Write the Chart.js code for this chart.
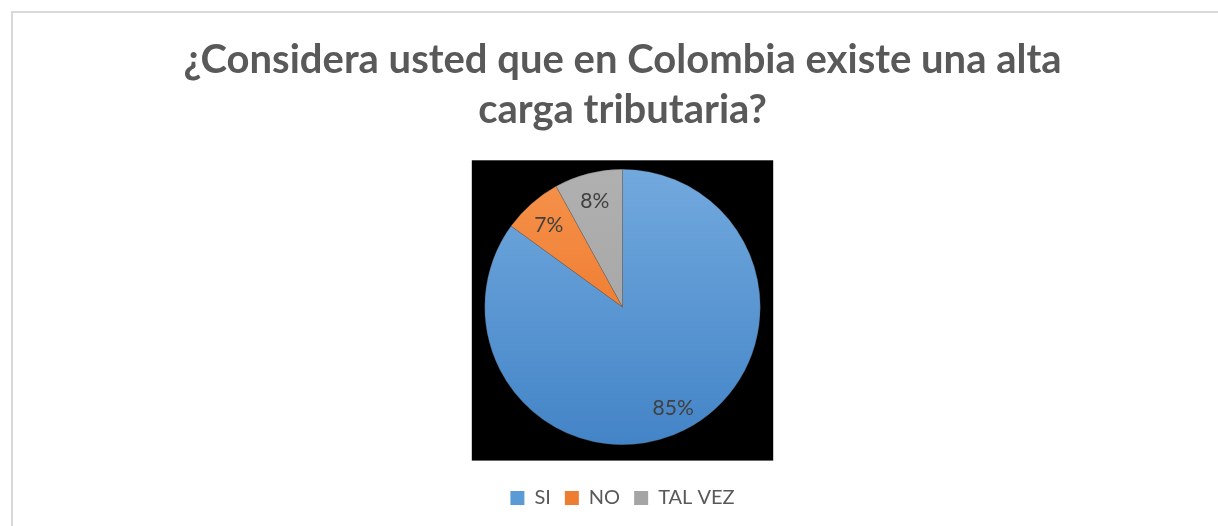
<!DOCTYPE html>
<html>
<head>
<meta charset="utf-8">
<script src="https://cdn.jsdelivr.net/npm/chart.js@4"></script>
<style>
  html, body { margin: 0; padding: 0; background: #ffffff; }
  #wrap { position: relative; width: 1218px; height: 526px; overflow: hidden; }
  #frame { position: absolute; left: 11px; top: 11px; width: 1300px; height: 600px;
           border-left: 2px solid #d9d9d9; border-top: 2px solid #d9d9d9; box-sizing: border-box; }
  canvas { position: absolute; left: 0; top: 0; }
</style>
</head>
<body>
<div id="wrap">
  <div id="frame"></div>
  <canvas id="c" width="1218" height="526"></canvas>
</div>
<script>
const titleLines = ["¿Considera usted que en Colombia existe una alta", "carga tributaria?"];
const categories = ["SI", "NO", "TAL VEZ"];
const values = [85, 7, 8];
const topColors = ["#72a9de", "#f6924c", "#b0b0b0"];
const bottomColors = ["#4384c7", "#e96d1c", "#a0a0a0"];
const legendColors = ["#5b9bd5", "#ed7d31", "#a5a5a5"];

function gradFill(ctx) {
  const chart = ctx.chart;
  const a = chart.chartArea;
  const i = ctx.dataIndex;
  if (!a || i === undefined) return legendColors[i] || "#999";
  const g = chart.ctx.createLinearGradient(0, a.top, 0, a.bottom);
  g.addColorStop(0, topColors[i]);
  g.addColorStop(1, bottomColors[i]);
  return g;
}

const blackBox = {
  id: 'blackBox',
  beforeDatasetsDraw(chart) {
    const arc = chart.getDatasetMeta(0).data[0];
    if (!arc) return;
    const p = arc.getProps(['x', 'y', 'outerRadius'], true);
    const r = p.outerRadius;
    const c = chart.ctx;
    c.save();
    c.fillStyle = '#000000';
    c.fillRect(p.x - r * 1.094, p.y - r * 1.065, r * 2.188, r * 2.18);
    c.restore();
  }
};

const pctLabels = {
  id: 'pctLabels',
  afterDatasetsDraw(chart) {
    const meta = chart.getDatasetMeta(0);
    const data = chart.data.datasets[0].data;
    const total = data.reduce((s, v) => s + v, 0);
    const c = chart.ctx;
    c.save();
    c.font = '21px Lato';
    c.fillStyle = '#404040';
    c.textAlign = 'center';
    c.textBaseline = 'middle';
    meta.data.forEach((arc, i) => {
      const p = arc.getProps(['x', 'y', 'startAngle', 'endAngle', 'outerRadius'], true);
      const mid = (p.startAngle + p.endAngle) / 2;
      const r = p.outerRadius * 0.81;
      c.fillText(Math.round(data[i] / total * 100) + '%', p.x + Math.cos(mid) * r, p.y + Math.sin(mid) * r + 2);
    });
    c.restore();
  }
};

new Chart(document.getElementById('c'), {
  type: 'pie',
  data: {
    labels: categories,
    datasets: [{
      data: values,
      backgroundColor: gradFill,
      borderColor: 'rgba(90,90,90,0.6)',
      borderWidth: 0.5
    }]
  },
  options: {
    responsive: false,
    animation: false,
    devicePixelRatio: 1,
    layout: { padding: { top: 0, bottom: 8, left: 40, right: 13 } },
    plugins: {
      title: {
        display: true,
        text: titleLines,
        color: '#595959',
        font: { family: 'Lato', size: 40, weight: 'bold', lineHeight: 1.25 },
        padding: { top: 35, bottom: 34 }
      },
      subtitle: {
        display: true,
        position: 'bottom',
        text: '',
        weight: 500,
        font: { size: 10, lineHeight: 1 },
        padding: { top: 19, bottom: 0 }
      },
      legend: {
        position: 'bottom',
        weight: 1000,
        labels: {
          color: '#595959',
          font: { family: 'Lato', size: 20 },
          boxWidth: 14,
          boxHeight: 14,
          padding: 14,
          generateLabels(chart) {
            return chart.data.labels.map((l, i) => ({
              text: l, fillStyle: legendColors[i], strokeStyle: legendColors[i],
              lineWidth: 0, index: i, hidden: false, fontColor: '#595959'
            }));
          }
        }
      },
      tooltip: { enabled: false }
    }
  },
  plugins: [blackBox, pctLabels]
});
</script>
</body>
</html>
